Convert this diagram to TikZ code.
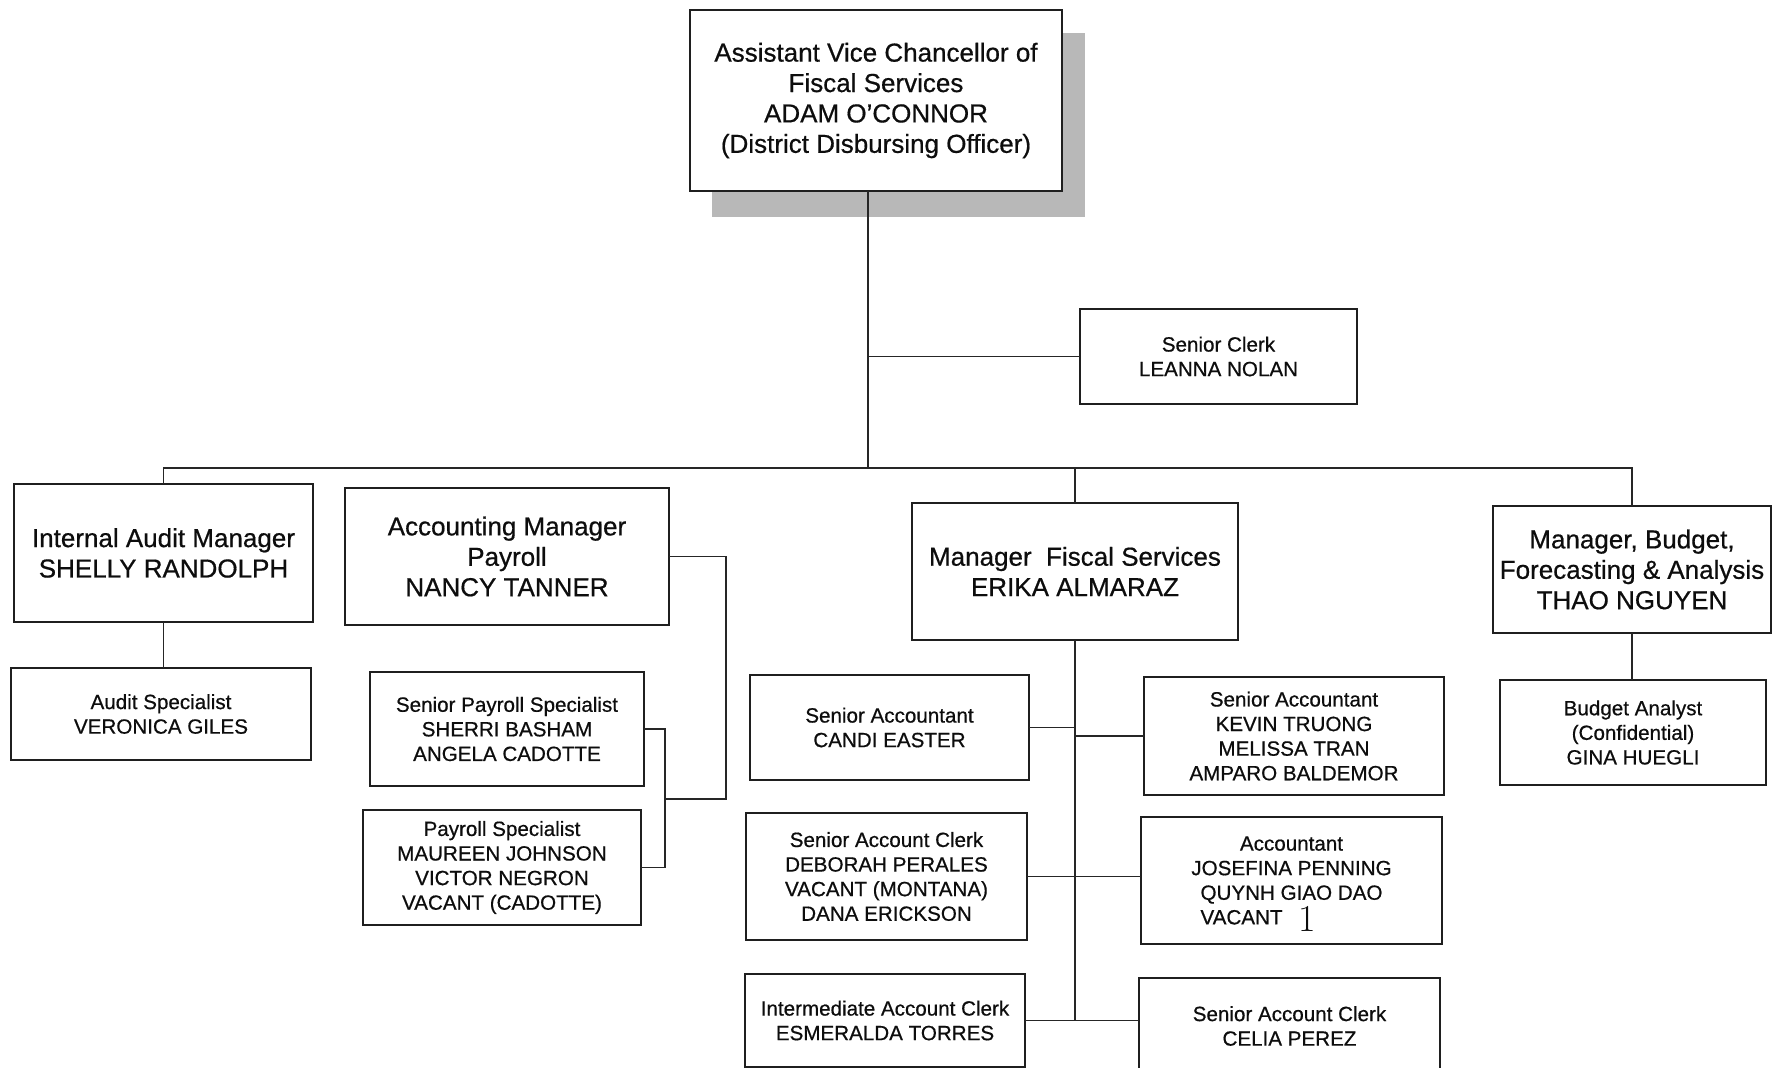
\documentclass[tikz,border=0pt]{standalone}
\usepackage{fontspec}
\setsansfont{Liberation Sans}

% \orgbox{name}{x1}{y1}{x2}{y2}{style}{text}: a box given by its corners
\newcommand{\orgbox}[7]{%
  \node[#6, minimum width={(#4-#2)*0.5pt}, minimum height={(#5-#3)*0.5pt}]
    (#1) at ({(#2+#4)/2},{(#3+#5)/2}) {#7};}

\begin{document}
\begin{tikzpicture}[x=0.5pt,y=-0.5pt,
  box/.style={draw=black!88, line width=1.05pt, fill=white, inner sep=0pt,
    outer sep=0pt, align=center, text=black!95},
  bigbox/.style={box, font=\sffamily\fontsize{13pt}{15.2pt}\selectfont\addfontfeature{FakeBold=0.6}},
  smallbox/.style={box, font=\sffamily\fontsize{10.3pt}{12.3pt}\selectfont\addfontfeature{FakeBold=0.6}},
  link/.style={draw=black!85, line width=0.85pt}]

\useasboundingbox (0,0) rectangle (1773,1068);
\fill[white] (0,0) rectangle (1773,1068);

% head of the division, with its drop shadow
\fill[black!28] (712,33) rectangle (1085,217);
\orgbox{top}{690}{10}{1062}{191}{bigbox, line width=1.2pt}{Assistant Vice Chancellor of\\Fiscal Services\\ADAM O'CONNOR\\(District Disbursing Officer)}

\orgbox{clerk}{1080}{309}{1357}{404}{smallbox}{Senior Clerk\\LEANNA NOLAN}

% managers
\orgbox{audit}{14}{484}{313}{622}{bigbox}{Internal Audit Manager\\SHELLY RANDOLPH}
\orgbox{acct}{345}{488}{669}{625}{bigbox}{Accounting Manager\\Payroll\\NANCY TANNER}
\orgbox{fiscal}{912}{503}{1238}{640}{bigbox}{Manager\ \ Fiscal Services\\ERIKA ALMARAZ}
\orgbox{budget}{1493}{506}{1771}{633}{bigbox}{Manager, Budget,\\Forecasting \& Analysis\\THAO NGUYEN}

% staff
\orgbox{auditspec}{11}{668}{311}{760}{smallbox}{Audit Specialist\\VERONICA GILES}
\orgbox{srpay}{370}{672}{644}{786}{smallbox}{Senior Payroll Specialist\\SHERRI BASHAM\\ANGELA CADOTTE}
\orgbox{pay}{363}{810}{641}{925}{smallbox}{Payroll Specialist\\MAUREEN JOHNSON\\VICTOR NEGRON\\VACANT (CADOTTE)}
\orgbox{budgetan}{1500}{680}{1766}{785}{smallbox}{Budget Analyst\\(Confidential)\\GINA HUEGLI}

\orgbox{candi}{750}{675}{1029}{780}{smallbox}{Senior Accountant\\CANDI EASTER}
\orgbox{kevin}{1144}{677}{1444}{795}{smallbox}{Senior Accountant\\KEVIN TRUONG\\MELISSA TRAN\\AMPARO BALDEMOR}
\orgbox{deborah}{746}{813}{1027}{940}{smallbox}{Senior Account Clerk\\DEBORAH PERALES\\VACANT (MONTANA)\\DANA ERICKSON}
\orgbox{josefina}{1141}{817}{1442}{944}{smallbox}{Accountant\\JOSEFINA PENNING\\QUYNH GIAO DAO\\\makebox[91pt][l]{VACANT\hspace{8pt}\smash{\raisebox{-3.5pt}{\rmfamily\fontsize{19pt}{12pt}\selectfont 1}}}}
\orgbox{inter}{745}{974}{1025}{1067}{smallbox}{Intermediate Account Clerk\\ESMERALDA TORRES}
\orgbox{celia}{1139}{978}{1440}{1074}{smallbox}{Senior Account Clerk\\CELIA PEREZ}

% reporting lines
\coordinate (bus) at (868,468);
\coordinate (payjoin) at (665,799);
\coordinate (payrail) at (726,799);

\draw[link] (top.south -| bus) -- (bus);
\draw[link] (clerk.west) -- (clerk.west -| bus);
\draw[link] (audit.north) |- (bus) -| (budget.north);
\draw[link] (fiscal.north) -- (fiscal.north |- bus);

\draw[link] (audit.south) -- (audit.south |- auditspec.north);
\draw[link] (budget.south) -- (budget.south |- budgetan.north);

\draw[link] (acct.east) -| (payrail) -- (payjoin);
\draw[link] (srpay.east) -| (payjoin) |- (pay.east);

\draw[link] (fiscal.south) -- (fiscal.south |- inter.east);
\draw[link] (candi.east) -- (candi.east -| fiscal.south);
\draw[link] (kevin.west) -- (kevin.west -| fiscal.south);
\draw[link] (deborah.east) -- (josefina.west |- deborah.east);
\draw[link] (inter.east) -- (celia.west |- inter.east);
\end{tikzpicture}
\end{document}
